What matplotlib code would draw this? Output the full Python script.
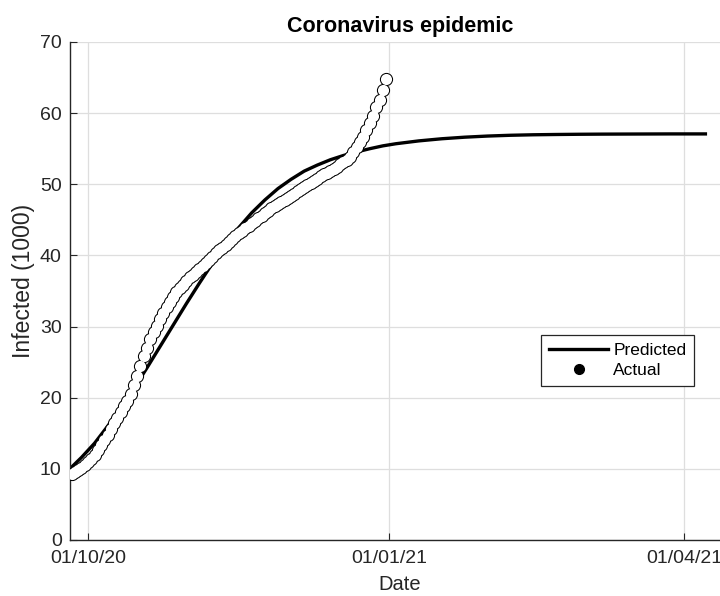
import matplotlib
matplotlib.use("Agg")
import matplotlib.pyplot as plt
import matplotlib.dates as mdates
from matplotlib.lines import Line2D
import pandas as pd

plt.rcParams['font.family'] = ['Liberation Sans', 'DejaVu Sans']

# ---- data ----
actual_start = "2020-09-26"
actual_values = [
    9.3, 9.5, 9.8, 10.1, 10.5, 10.9, 11.4, 12.0, 12.6, 13.3,
    14.0, 14.8, 15.6, 16.4, 17.2, 18.0, 18.8, 19.6, 20.5, 21.8,
    23.1, 24.5, 25.8, 27.0, 28.2, 29.2, 30.1, 31.0, 31.9, 32.7,
    33.5, 34.2, 34.8, 35.4, 35.9, 36.4, 36.9, 37.3, 37.7, 38.1,
    38.5, 38.9, 39.3, 39.8, 40.3, 40.7, 41.1, 41.5, 41.9, 42.3,
    42.7, 43.1, 43.5, 43.9, 44.2, 44.6, 44.9, 45.3, 45.6, 45.9,
    46.3, 46.6, 46.9, 47.2, 47.5, 47.8, 48.1, 48.4, 48.7, 49.0,
    49.3, 49.6, 49.9, 50.2, 50.5, 50.8, 51.1, 51.4, 51.6, 51.9,
    52.2, 52.5, 52.8, 53.1, 53.4, 53.9, 54.6, 55.3, 55.9, 56.7,
    57.6, 58.6, 59.6, 60.8, 61.8, 63.2, 64.8,
]
actual_dates = pd.date_range(actual_start, periods=len(actual_values), freq="D")

predicted_dates = pd.to_datetime([
    "2020-09-25", "2020-09-29", "2020-10-03", "2020-10-07", "2020-10-11",
    "2020-10-15", "2020-10-19", "2020-10-23", "2020-10-27", "2020-10-31",
    "2020-11-04", "2020-11-08", "2020-11-12", "2020-11-16", "2020-11-20",
    "2020-11-24", "2020-11-28", "2020-12-02", "2020-12-06", "2020-12-10",
    "2020-12-14", "2020-12-18", "2020-12-22", "2020-12-26", "2020-12-30",
    "2021-01-03", "2021-01-10", "2021-01-17", "2021-01-24", "2021-01-31",
    "2021-02-07", "2021-02-14", "2021-02-21", "2021-02-28", "2021-03-07",
    "2021-03-14", "2021-03-21", "2021-03-28", "2021-04-04", "2021-04-08",
])
predicted_values = [
    9.8, 11.6, 13.6, 16.0, 18.5,
    21.3, 24.2, 27.2, 30.2, 33.2,
    36.1, 38.9, 41.5, 43.9, 46.0,
    47.8, 49.4, 50.7, 51.85, 52.7,
    53.45, 54.05, 54.55, 55.0, 55.4,
    55.7, 56.1, 56.4, 56.62, 56.78,
    56.89, 56.96, 57.0, 57.03, 57.05,
    57.06, 57.07, 57.08, 57.08, 57.08,
]

x_ticks = pd.to_datetime(["2020-10-01", "2021-01-01", "2021-04-01"])
y_ticks = [0, 10, 20, 30, 40, 50, 60, 70]
x_limits = [pd.Timestamp("2020-09-25 12:00"), pd.Timestamp("2021-04-15 00:00")]

# ---- figure ----
fig = plt.figure(figsize=(7.2, 5.96), dpi=100)
ax = fig.add_axes([70/720, 56/596, 660/720, 498/596])

dark = '#262626'
ax.plot(predicted_dates, predicted_values, color='black', lw=2.4,
        solid_capstyle='butt', zorder=2)
# outline layer then white fill layer -> continuous outlined tube
ax.plot(actual_dates, actual_values, linestyle='none', marker='o',
        markersize=9.5, markerfacecolor='black', markeredgecolor='black',
        markeredgewidth=0, zorder=3)
ax.plot(actual_dates, actual_values, linestyle='none', marker='o',
        markersize=8.0, markerfacecolor='white', markeredgecolor='white',
        markeredgewidth=0, zorder=4)

ax.set_xlim(x_limits[0], x_limits[1])
ax.set_ylim(0, 70)
ax.set_xticks(x_ticks)
ax.set_yticks(y_ticks)
ax.xaxis.set_major_formatter(mdates.DateFormatter('%d/%m/%y'))

ax.grid(True, color='#dedede', linewidth=0.9)
ax.set_axisbelow(True)
for s in ['top', 'right']:
    ax.spines[s].set_visible(False)
for s in ['left', 'bottom']:
    ax.spines[s].set_color(dark)
    ax.spines[s].set_linewidth(1.0)
ax.tick_params(direction='in', length=5, width=0.8, color=dark,
               labelcolor=dark, labelsize=14)
ax.tick_params(axis='x', pad=7)
ax.tick_params(axis='y', pad=6)

ax.set_title('Coronavirus epidemic', fontsize=15.5, fontweight='bold',
             color='black', pad=7)
ax.set_xlabel('Date', fontsize=14.5, color=dark, labelpad=6)
ax.set_ylabel('Infected (1000)', fontsize=16.5, color=dark)
ax.yaxis.set_label_coords(-0.053, 0.52)

handles = [
    Line2D([], [], color='black', lw=2.4),
    Line2D([], [], linestyle='none', marker='o', markersize=7,
           markerfacecolor='black', markeredgecolor='black'),
]
leg = ax.legend(handles, ['Predicted', 'Actual'], loc='upper left',
                bbox_to_anchor=(0.714, 0.412), fontsize=12.5,
                frameon=True, fancybox=False, framealpha=1,
                edgecolor=dark, handlelength=3.4, handletextpad=0.3,
                labelspacing=0.3, borderpad=0.45, borderaxespad=0)
leg.get_frame().set_linewidth(0.9)

fig.savefig('out.png', dpi=100)
